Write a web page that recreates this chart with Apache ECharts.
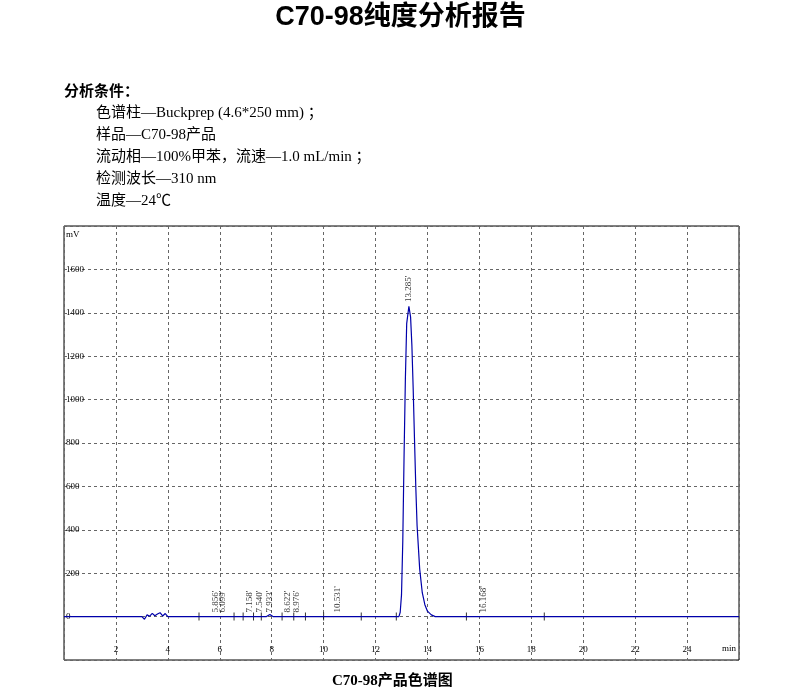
<!DOCTYPE html>
<html>
<head>
<meta charset="utf-8">
<script src="https://cdn.jsdelivr.net/npm/echarts@6/dist/echarts.min.js"></script>
<style>body{margin:0;background:#fff}#main{width:801px;height:692px}</style>
</head>
<body>
<div id="main"></div>
<script>
// 色谱数据 (min, mV)
var times = [0, 3.0, 3.1, 3.2, 3.3, 3.4, 3.5, 3.6, 3.7, 3.8, 3.9, 4.0, 7.8, 7.93, 8.05, 12.9, 12.95, 13.0, 13.05, 13.1, 13.15, 13.2, 13.285, 13.35, 13.4, 13.45, 13.5, 13.55, 13.6, 13.7, 13.8, 13.9, 14.0, 14.15, 14.3, 26];
var signal = [0, 0, -12, 8, 2, 15, 4, 12, 18, 3, 14, 0, 0, 10, 0, 0, 20, 100, 350, 750, 1100, 1350, 1430, 1380, 1250, 1050, 820, 600, 420, 220, 110, 55, 25, 8, 0, 0];
var peakTimes = [5.856, 6.099, 7.158, 7.540, 7.933, 8.622, 8.976, 10.531, 13.285, 16.168];
var peakLabelY = [10, 10, 10, 10, 10, 10, 10, 10, 1440, 10];
var tickTimes = [5.2, 6.55, 6.9, 7.3, 7.6, 8.4, 8.85, 9.3, 10.0, 11.45, 12.8, 15.5, 18.5];
var conditions = [
	'色谱柱—Buckprep (4.6*250 mm) ；',
	'样品—C70-98产品',
	'流动相—100%甲苯，流速—1.0 mL/min ；',
	'检测波长—310 nm',
	'温度—24℃'
];

var chart = echarts.init(document.getElementById('main'));
var serif = '"Liberation Serif", "Noto Sans CJK SC"';
var graphics = [
	{type: 'text', left: 'center', top: 4, style: {text: 'C70-98纯度分析报告', font: 'bold 27px "Liberation Sans", "Noto Sans CJK SC"', fill: '#000'}},
	{type: 'text', left: 64, top: 83, style: {text: '分析条件：', font: 'bold 15px "Noto Sans CJK SC"', fill: '#000'}},
	{type: 'text', left: 332, top: 674, style: {text: 'C70-98产品色谱图', font: 'bold 15px ' + serif, fill: '#000'}},
	{type: 'text', left: 66, top: 230, style: {text: 'mV', font: '9px ' + serif, fill: '#000'}},
	{type: 'text', left: 722, top: 644, style: {text: 'min', font: '9px ' + serif, fill: '#000'}}
];
conditions.forEach(function(c, i) {
	graphics.push({type: 'text', left: 96, top: 106 + i * 22, style: {text: c, font: '15px ' + serif, fill: '#000'}});
});

chart.setOption({
	animation: false,
	graphic: graphics,
	grid: {left: 64, right: 62, top: 226, bottom: 32, show: true, borderColor: '#000', borderWidth: 1},
	xAxis: {
		type: 'value', min: 0, max: 26, interval: 2,
		axisLine: {show: false}, axisTick: {show: false},
		axisLabel: {inside: true, margin: 6, fontSize: 9, fontFamily: 'Liberation Serif', color: '#000',
			formatter: function(v) { return (v === 0 || v === 26) ? '' : v; }},
		splitLine: {lineStyle: {type: [3, 3], color: '#666'}}
	},
	yAxis: {
		type: 'value', min: -200, max: 1800, interval: 200,
		axisLine: {show: false}, axisTick: {show: false},
		axisLabel: {inside: true, margin: 2, fontSize: 9, fontFamily: 'Liberation Serif', color: '#000',
			formatter: function(v) { return (v === -200 || v === 1800) ? '' : v; }},
		splitLine: {lineStyle: {type: [3, 3], color: '#666'}}
	},
	series: [
		{type: 'line', data: times.map(function(t, i) { return [t, signal[i]]; }), showSymbol: false,
			lineStyle: {color: '#0000aa', width: 1.2}, z: 3},
		{type: 'scatter', data: tickTimes.map(function(t) { return [t, 0]; }), symbol: 'rect', symbolSize: [1, 8],
			itemStyle: {color: '#000'}, silent: true},
		{type: 'scatter', data: peakTimes.map(function(t, i) { return [t, peakLabelY[i]]; }), symbolSize: 0,
			label: {show: true, rotate: 90, position: 'top', align: 'left', verticalAlign: 'middle', distance: 2,
				fontSize: 9, fontFamily: 'Liberation Serif', color: '#000',
				formatter: function(p) { return p.value[0].toFixed(3) + "'"; }}, silent: true}
	]
});
</script>
</body>
</html>
